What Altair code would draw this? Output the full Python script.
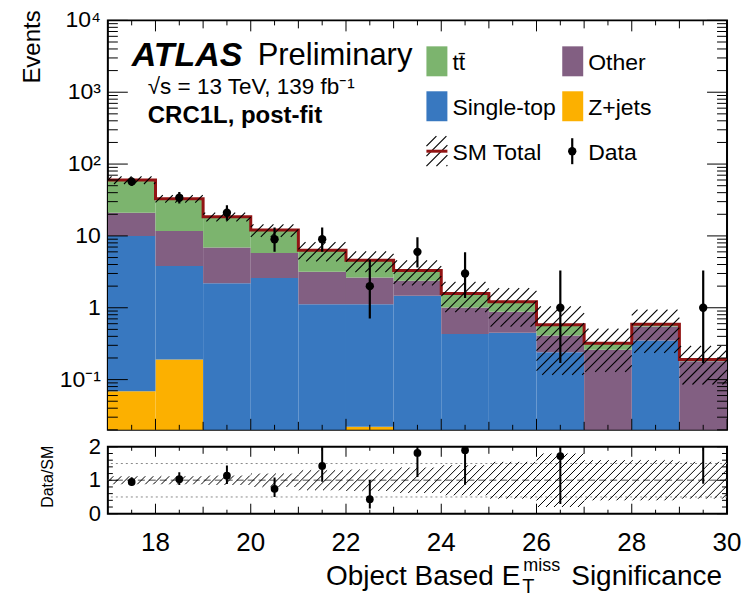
import altair as alt
import numpy as np
import pandas as pd

# ---------------- yields per bin (post-fit) ----------------
bin_edges = [17, 18, 19, 20, 21, 22, 23, 24, 25, 26, 27, 28, 29, 30]
zjets = [0.069, 0.19, 0, 0, 0, 0.022, 0, 0, 0, 0, 0, 0, 0]
single_top = [9.93, 3.61, 2.2, 2.6, 1.12, 1.10, 1.47, 0.43, 0.45, 0.24, 0, 0.35, 0]
other = [11.0, 7.9, 4.7, 3.2, 2.04, 1.52, 0.90, 0.58, 0.43, 0.17, 0.26, 0.20, 0.18]
ttbar = [39.0, 21.3, 11.6, 6.3, 3.14, 1.96, 0.93, 0.57, 0.33, 0.17, 0.06, 0.04, 0.01]
rel_unc = [0.12, 0.12, 0.14, 0.20, 0.30, 0.32, 0.38, 0.45, 0.55, 0.80, 0.60, 0.60, 0.55]

# observed events with 68% Poisson intervals
data_counts = [57, 34, 21, 9, 9, 2, 6, 3, 0, 1, 0, 0, 1]
data_low = [49.5, 28.2, 16.4, 6.04, 6.04, 0.71, 3.62, 1.37, 0, 0.17, 0, 0, 0.17]
data_high = [65.6, 40.9, 26.7, 13.1, 13.1, 4.64, 9.58, 5.92, 0, 3.30, 0, 0, 3.30]

# stacking order, bottom to top
process_names = ["Z+jets", "Single-top", "Other", "tt\u0304"]
process_values = [zjets, single_top, other, ttbar]
process_colors = ["#fcb000", "#3878c0", "#825f82", "#7cb46e"]
SM_RED = "#921414"

# ticks and tick labels
x_even = [18, 20, 22, 24, 26, 28, 30]
x_even_labels = ["18", "20", "22", "24", "26", "28", "30"]
x_odd = [19, 21, 23, 25, 27, 29]
x_half = [v + 0.5 for v in range(17, 30)]
y_major = [0.1, 1, 10, 100, 1000, 10000]
y_major_labels = ["10\u207b\u00b9", "1", "10", "10\u00b2", "10\u00b3", "10\u2074"]
y_minor = [m * 10.0 ** e for e in range(-2, 4) for m in range(2, 10) if m * 10.0 ** e >= 0.02]
r_major = [0, 1, 2]
r_major_labels = ["0", "1", "2"]
r_minor = [0.2, 0.4, 0.6, 0.8, 1.2, 1.4, 1.6, 1.8]

# ---------------- layout ----------------
W, H_MAIN, H_RATIO = 620, 410, 67
X_DOM = [17, 30]
Y_DOM = [0.02, 10000]
R_DOM = [0, 2]
FONT = "Liberation Sans"

xs = alt.Scale(domain=X_DOM, nice=False, zero=False)
ys = alt.Scale(type="log", domain=Y_DOM, nice=False)
rs = alt.Scale(domain=R_DOM, nice=False, zero=False)

n = len(bin_edges) - 1
totals = np.zeros(n)
stack_rows = []
for name, vals in zip(process_names, process_values):
    for i, v in enumerate(vals):
        if v > 0:
            stack_rows.append(dict(lo=bin_edges[i], hi=bin_edges[i + 1], process=name,
                                   bottom=totals[i] if totals[i] > 0 else 1e-3,
                                   top=totals[i] + v))
    totals = totals + np.array(vals)
stack_df = pd.DataFrame(stack_rows)

line_df = pd.DataFrame({"x": bin_edges, "y": list(totals) + [totals[-1]]})

# pixel mapping used to lay 45 degree hatch lines over the uncertainty band
PPX = W / (X_DOM[1] - X_DOM[0])
LOG0 = np.log10(Y_DOM[0])
PPD = H_MAIN / (np.log10(Y_DOM[1]) - LOG0)


def hatch(lows, highs, to_py, from_py, spacing):
    segs = []
    for i in range(n):
        px0 = (bin_edges[i] - X_DOM[0]) * PPX
        px1 = (bin_edges[i + 1] - X_DOM[0]) * PPX
        py0, py1 = to_py(lows[i]), to_py(highs[i])
        if py1 <= py0:
            continue
        kmin = int(np.floor((px0 - py1) / spacing))
        kmax = int(np.ceil((px1 - py0) / spacing))
        for k in range(kmin, kmax + 1):
            c = k * spacing
            xa = max(px0, py0 + c)
            xb = min(px1, py1 + c)
            if xb - xa > 0.6:
                segs.append(dict(x=X_DOM[0] + xa / PPX, y=from_py(xa - c),
                                 x2=X_DOM[0] + xb / PPX, y2=from_py(xb - c)))
    return pd.DataFrame(segs)


unc = np.array(rel_unc)
main_hatch = hatch(np.maximum(totals * (1 - unc), Y_DOM[0]), totals * (1 + unc),
                   lambda v: (np.log10(v) - LOG0) * PPD,
                   lambda p: 10 ** (LOG0 + p / PPD), 10)
ratio_hatch = hatch(np.maximum(1 - unc, 0), np.minimum(1 + unc, 2),
                    lambda v: v * H_RATIO / 2, lambda p: p * 2 / H_RATIO, 8)

centers = [(bin_edges[i] + bin_edges[i + 1]) / 2 for i in range(n)]
obs = pd.DataFrame({"x": centers, "n": data_counts, "lo": data_low, "hi": data_high,
                    "tot": totals})
obs = obs[obs["n"] > 0].copy()
obs["r"] = obs["n"] / obs["tot"]
obs["rlo"] = obs["lo"] / obs["tot"]
obs["rhi"] = obs["hi"] / obs["tot"]

one = pd.DataFrame({"k": [0]})


def inner_ticks(yscale, height, x_sets, y_sets):
    """ATLAS-style ticks on all four sides, pointing into the frame."""
    layers = []
    for values, size in x_sets:
        df = pd.DataFrame({"v": values})
        for y0, y1 in [(height - size, height), (0, size)]:
            layers.append(alt.Chart(df).mark_rule(color="black", strokeWidth=1).encode(
                x=alt.X("v:Q", scale=xs, axis=None),
                y=alt.value(y0), y2=alt.value(y1)))
    for values, size in y_sets:
        df = pd.DataFrame({"v": values})
        for x0, x1 in [(0, size), (W - size, W)]:
            layers.append(alt.Chart(df).mark_rule(color="black", strokeWidth=1).encode(
                y=alt.Y("v:Q", scale=yscale, axis=None),
                x=alt.value(x0), x2=alt.value(x1)))
    return layers


def y_tick_labels(values, labels, yscale, size, pad):
    df = pd.DataFrame({"v": values, "label": labels})
    return alt.Chart(df).mark_text(font=FONT, fontSize=size, color="black", align="right",
                                   baseline="middle").encode(
        y=alt.Y("v:Q", scale=yscale, axis=None), x=alt.value(-pad), text="label:N")


def x_tick_labels(values, labels, height, size, pad):
    df = pd.DataFrame({"v": values, "label": labels})
    return alt.Chart(df).mark_text(font=FONT, fontSize=size, color="black", align="center",
                                   baseline="top").encode(
        x=alt.X("v:Q", scale=xs, axis=None), y=alt.value(height + pad), text="label:N")


def text(txt, x, y, size, **kw):
    return alt.Chart(one).mark_text(text=txt, font=FONT, fontSize=size, color="black",
                                    **kw).encode(x=alt.value(x), y=alt.value(y))


# ---------------- main panel ----------------
bars = alt.Chart(stack_df).mark_rect(clip=True, strokeWidth=0).encode(
    x=alt.X("lo:Q", scale=xs, axis=None), x2="hi:Q",
    y=alt.Y("bottom:Q", scale=ys, axis=None), y2="top:Q",
    color=alt.Color("process:N", scale=alt.Scale(domain=process_names, range=process_colors),
                    legend=None))

sm_line = alt.Chart(line_df).mark_line(interpolate="step-after", color=SM_RED,
                                       strokeWidth=3, clip=True).encode(
    x=alt.X("x:Q", scale=xs, axis=None), y=alt.Y("y:Q", scale=ys, axis=None))

band_main = alt.Chart(main_hatch).mark_rule(color="black", strokeWidth=1.1, clip=True).encode(
    x=alt.X("x:Q", scale=xs, axis=None), x2="x2:Q",
    y=alt.Y("y:Q", scale=ys, axis=None), y2="y2:Q")

err_main = alt.Chart(obs).mark_rule(color="black", strokeWidth=2.2, clip=True).encode(
    x=alt.X("x:Q", scale=xs, axis=None),
    y=alt.Y("lo:Q", scale=ys, axis=None), y2="hi:Q")
pts_main = alt.Chart(obs).mark_circle(color="black", size=70, opacity=1, clip=True).encode(
    x=alt.X("x:Q", scale=xs, axis=None), y=alt.Y("n:Q", scale=ys, axis=None))

main_ticks = inner_ticks(ys, H_MAIN, [(x_even, 11), (x_odd, 8), (x_half, 5)],
                         [(y_major, 20), (y_minor, 10)])
main_ylabels = y_tick_labels(y_major, y_major_labels, ys, 23, 7)

# legend, drawn as a two-column key
legend_layers = []
swatch_x = [319, 455]
row_y = [26, 71, 116]
legend_slots = [(0, 0, 3), (1, 0, 2), (0, 1, 1), (1, 1, 0)]  # (col, row, process)
for col, row, p in legend_slots:
    legend_layers.append(alt.Chart(one).mark_rect(color=process_colors[p]).encode(
        x=alt.value(swatch_x[col]), x2=alt.value(swatch_x[col] + 21),
        y=alt.value(row_y[row]), y2=alt.value(row_y[row] + 30)))
    legend_layers.append(text(process_names[p], swatch_x[col] + 26, row_y[row] + 17, 23,
                              align="left", baseline="middle"))

key_segs = []
for k in range(-4, 5):
    c = k * 10
    xa, xb = max(0, c), min(21, 30 + c)
    if xb - xa > 0.6:
        key_segs.append(dict(px=swatch_x[0] + xa, py=row_y[2] + 30 - (xa - c),
                             px2=swatch_x[0] + xb, py2=row_y[2] + 30 - (xb - c)))
legend_layers.append(alt.Chart(pd.DataFrame(key_segs)).mark_rule(color="black",
                                                                   strokeWidth=1.1).encode(
    x=alt.X("px:Q", scale=None, axis=None), x2="px2:Q",
    y=alt.Y("py:Q", scale=None, axis=None), y2="py2:Q"))
legend_layers.append(alt.Chart(one).mark_rule(color=SM_RED, strokeWidth=3).encode(
    x=alt.value(swatch_x[0]), x2=alt.value(swatch_x[0] + 21),
    y=alt.value(row_y[2] + 15), y2=alt.value(row_y[2] + 15)))
legend_layers.append(text("SM Total", swatch_x[0] + 26, row_y[2] + 17, 23,
                          align="left", baseline="middle"))
legend_layers.append(alt.Chart(one).mark_rule(color="black", strokeWidth=2.2).encode(
    x=alt.value(swatch_x[1] + 10), x2=alt.value(swatch_x[1] + 10),
    y=alt.value(row_y[2] + 2), y2=alt.value(row_y[2] + 28)))
legend_layers.append(alt.Chart(one).mark_circle(color="black", size=70, opacity=1).encode(
    x=alt.value(swatch_x[1] + 10), y=alt.value(row_y[2] + 15)))
legend_layers.append(text("Data", swatch_x[1] + 26, row_y[2] + 17, 23,
                          align="left", baseline="middle"))

labels_main = [
    text("ATLAS", 24, 36, 34, fontStyle="italic", fontWeight="bold", align="left"),
    text("Preliminary", 150, 36, 31, align="left"),
    text("\u221as = 13 TeV, 139 fb\u207b\u00b9", 40, 67, 22.5, align="left"),
    text("CRC1L, post-fit", 40, 96, 24, fontWeight="bold", align="left"),
    text("Events", -87, -10, 24, angle=270, align="right", baseline="top"),
]

main = alt.layer(bars, sm_line, band_main, err_main, pts_main,
                 *legend_layers, *labels_main, *main_ticks, main_ylabels).properties(
    width=W, height=H_MAIN)

# ---------------- ratio panel ----------------
unity = alt.Chart(pd.DataFrame({"v": [1.0]})).mark_rule(
    color="#8a8a8a", strokeWidth=1.3, strokeDash=[7, 4]).encode(
    y=alt.Y("v:Q", scale=rs, axis=None))
halves = alt.Chart(pd.DataFrame({"v": [0.5, 1.5]})).mark_rule(
    color="#8a8a8a", strokeWidth=1, strokeDash=[2, 3]).encode(
    y=alt.Y("v:Q", scale=rs, axis=None))
band_ratio = alt.Chart(ratio_hatch).mark_rule(color="black", strokeWidth=1, clip=True).encode(
    x=alt.X("x:Q", scale=xs, axis=None), x2="x2:Q",
    y=alt.Y("y:Q", scale=rs, axis=None), y2="y2:Q")
err_ratio = alt.Chart(obs).mark_rule(color="black", strokeWidth=2, clip=True).encode(
    x=alt.X("x:Q", scale=xs, axis=None),
    y=alt.Y("rlo:Q", scale=rs, axis=None), y2="rhi:Q")
pts_ratio = alt.Chart(obs).mark_circle(color="black", size=60, opacity=1, clip=True).encode(
    x=alt.X("x:Q", scale=xs, axis=None), y=alt.Y("r:Q", scale=rs, axis=None))

ratio_ticks = inner_ticks(rs, H_RATIO, [(x_even, 10), (x_odd, 7), (x_half, 4)],
                          [(r_major, 10), (r_minor, 5)])
ratio_ylabels = y_tick_labels(r_major, r_major_labels, rs, 22, 7)
ratio_xlabels = x_tick_labels(x_even, x_even_labels, H_RATIO, 26, 16)

labels_ratio = [
    text("Data/SM", -60, 30, 16, angle=270, align="center", baseline="middle"),
    text("Object Based E", 413, 138, 28, align="right", baseline="alphabetic"),
    text("miss", 416, 124, 18, align="left", baseline="alphabetic"),
    text("T", 415, 150, 20, align="left", baseline="bottom"),
    text("Significance", 464, 138, 28, align="left", baseline="alphabetic"),
]

ratio = alt.layer(halves, unity, band_ratio, err_ratio, pts_ratio,
                  *labels_ratio, *ratio_ticks, ratio_ylabels, ratio_xlabels).properties(
    width=W, height=H_RATIO)

chart = alt.vconcat(main, ratio, spacing=3).properties(
    padding={"left": 20, "top": 8, "right": 0, "bottom": 0}
).configure(font=FONT).configure_view(stroke="black", strokeWidth=2)

chart.save("out.html", embed_options={"renderer": "svg", "actions": False})
